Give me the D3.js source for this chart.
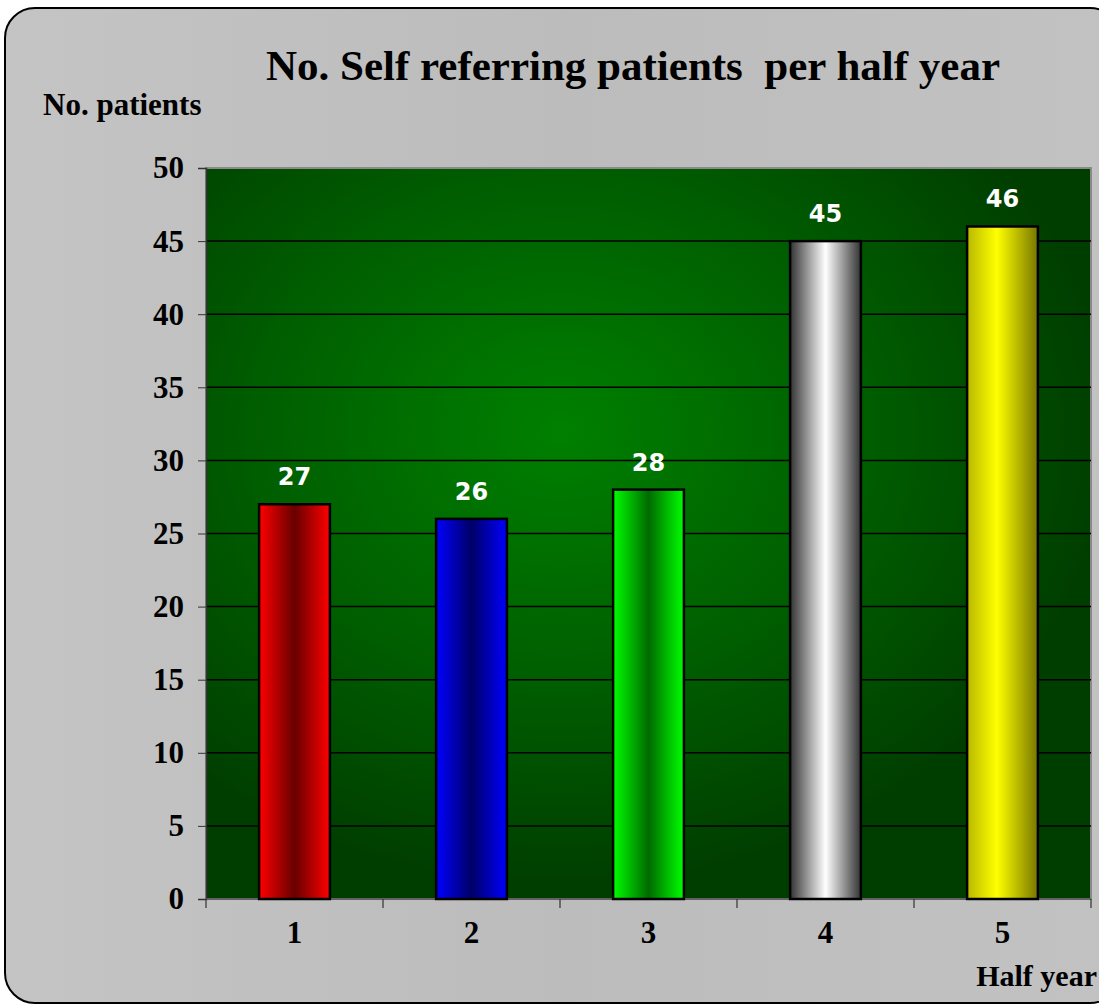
<!DOCTYPE html>
<meta charset="utf-8">
<script src="https://d3js.org/d3.v7.min.js"></script>
<style>
    body { margin: 0; background: white; }
    text { font-family: "Liberation Serif", serif; font-weight: bold; }
</style>
<div id="my_dataviz"></div>
<script>
    // data
    var halfYears = ["1", "2", "3", "4", "5"];
    var patients = [27, 26, 28, 45, 46];
    var yTicks = [0, 5, 10, 15, 20, 25, 30, 35, 40, 45, 50];
    // bar gradients: [edge left, middle, edge right]
    var barColors = [
        ["#ff0000", "#680000", "#ff0000"],
        ["#0000ff", "#000068", "#0000ff"],
        ["#00ff00", "#006a00", "#00ff00"],
        ["#333333", "#ffffff", "#333333"],
        ["#b8b800", "#ffff00", "#777700"]
    ];

    var W = 1099, H = 1005;
    var margin = { top: 168, right: 8, bottom: 106, left: 206 },
        width = 1091 - margin.left,
        height = 899 - margin.top;

    var root = d3.select("#my_dataviz")
        .append("svg")
        .attr("width", W)
        .attr("height", H);

    var defs = root.append("defs");

    // outer gray panel
    var bg = defs.append("linearGradient").attr("id", "panelGrad")
        .attr("x1", "0").attr("y1", "0").attr("x2", "1").attr("y2", "0");
    bg.append("stop").attr("offset", "0%").attr("stop-color", "#c4c4c4");
    bg.append("stop").attr("offset", "50%").attr("stop-color", "#bcbcbc");
    bg.append("stop").attr("offset", "100%").attr("stop-color", "#c2c2c2");

    root.append("rect")
        .attr("x", 5).attr("y", 8)
        .attr("width", 1115).attr("height", 995)
        .attr("rx", 30)
        .style("fill", "url(#panelGrad)")
        .style("stroke", "#000")
        .style("stroke-width", 2);

    // plot area radial green
    var rg = defs.append("radialGradient").attr("id", "plotGrad")
        .attr("cx", "0.4").attr("cy", "0.36").attr("r", "0.62");
    rg.append("stop").attr("offset", "0%").attr("stop-color", "#008000");
    rg.append("stop").attr("offset", "55%").attr("stop-color", "#005e00");
    rg.append("stop").attr("offset", "100%").attr("stop-color", "#003e00");

    barColors.forEach(function(c, i) {
        var g = defs.append("linearGradient").attr("id", "bar" + i)
            .attr("x1", "0").attr("y1", "0").attr("x2", "1").attr("y2", "0");
        g.append("stop").attr("offset", "0%").attr("stop-color", c[0]);
        g.append("stop").attr("offset", i == 4 ? "42%" : "50%").attr("stop-color", c[1]);
        g.append("stop").attr("offset", "100%").attr("stop-color", c[2]);
    });

    var svg = root.append("g")
        .attr("transform", "translate(" + margin.left + "," + margin.top + ")");

    var x = d3.scaleBand()
        .domain(halfYears)
        .range([0, width])
        .paddingInner(0.6)
        .paddingOuter(0.3);

    var y = d3.scaleLinear()
        .domain([0, 50])
        .range([height, 0]);

    // plot background with gray frame
    svg.append("rect")
        .attr("x", 0).attr("y", 0)
        .attr("width", width).attr("height", height)
        .style("fill", "url(#plotGrad)")
        .style("stroke", "#8a8a8a")
        .style("stroke-width", 2);

    // gridlines
    svg.append("g")
        .selectAll("line")
        .data(yTicks.filter(function(d) { return d > 0 && d < 50; }))
        .enter()
        .append("line")
        .attr("x1", 0).attr("x2", width)
        .attr("y1", function(d) { return y(d); })
        .attr("y2", function(d) { return y(d); })
        .style("stroke", "#000")
        .style("stroke-width", 1.5);

    // Y axis
    var yAxis = svg.append("g")
        .call(d3.axisLeft(y).tickValues(yTicks).tickSize(8).tickPadding(14));
    yAxis.select(".domain").style("stroke", "#333").style("stroke-width", 1.5);
    yAxis.selectAll(".tick line").style("stroke", "#333");
    yAxis.selectAll("text")
        .style("font-size", "31px")
        .style("font-family", "'Liberation Serif', serif")
        .style("font-weight", "bold")
        .style("fill", "#000");

    // X axis, ticks on band boundaries
    var xAxisG = svg.append("g").attr("transform", "translate(0," + height + ")");
    xAxisG.append("line")
        .attr("x1", 0).attr("x2", width)
        .style("stroke", "#555").style("stroke-width", 1.5);
    var bounds = d3.range(halfYears.length + 1).map(function(i) { return i * width / halfYears.length; });
    xAxisG.selectAll(".bt")
        .data(bounds)
        .enter()
        .append("line")
        .attr("x1", function(d) { return d; }).attr("x2", function(d) { return d; })
        .attr("y1", 0).attr("y2", 9)
        .style("stroke", "#333").style("stroke-width", 1.2);
    xAxisG.selectAll(".xl")
        .data(halfYears)
        .enter()
        .append("text")
        .attr("x", function(d) { return x(d) + x.bandwidth() / 2; })
        .attr("y", 44)
        .attr("text-anchor", "middle")
        .style("font-size", "31px")
        .text(function(d) { return d; });

    // bars
    svg.append("g")
        .selectAll("rect")
        .data(patients)
        .enter()
        .append("rect")
        .attr("x", function(d, i) { return x(halfYears[i]); })
        .attr("y", function(d) { return y(d); })
        .attr("width", x.bandwidth())
        .attr("height", function(d) { return height - y(d); })
        .style("fill", function(d, i) { return "url(#bar" + i + ")"; })
        .style("stroke", "#000")
        .style("stroke-width", 2.5);

    // value labels
    svg.append("g")
        .selectAll("text")
        .data(patients)
        .enter()
        .append("text")
        .attr("x", function(d, i) { return x(halfYears[i]) + x.bandwidth() / 2; })
        .attr("y", function(d) { return y(d) - 19; })
        .attr("text-anchor", "middle")
        .style("fill", "#fff")
        .style("font-size", "24px")
        .style("font-family", "'DejaVu Sans', sans-serif")
        .text(function(d) { return d; });

    // titles
    root.append("text")
        .attr("x", 633).attr("y", 80)
        .attr("text-anchor", "middle")
        .style("font-size", "43px")
        .style("white-space", "pre")
        .text("No. Self referring patients  per half year");

    root.append("text")
        .attr("x", 43).attr("y", 115)
        .style("font-size", "31px")
        .text("No. patients");

    root.append("text")
        .attr("x", 1097).attr("y", 986)
        .attr("text-anchor", "end")
        .style("font-size", "30px")
        .text("Half year");
</script>
